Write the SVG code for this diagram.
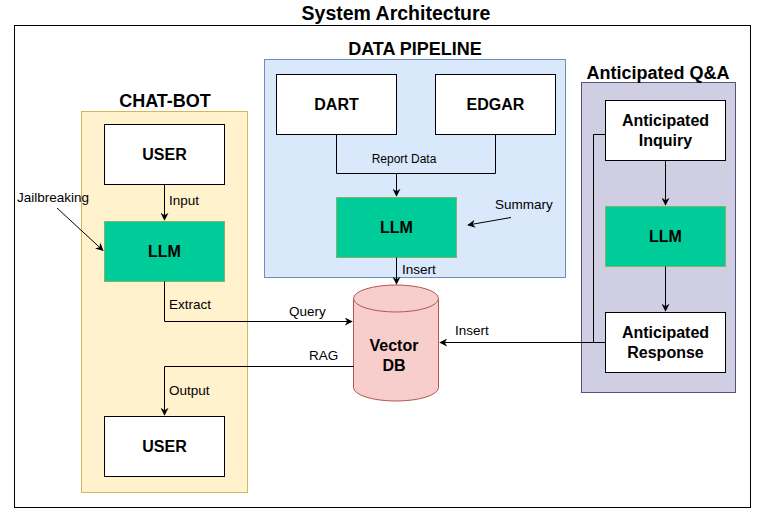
<svg xmlns="http://www.w3.org/2000/svg" width="770" height="530" viewBox="0 0 770 530">
<style>
.t{font-family:"Liberation Sans",Arial,sans-serif;fill:#000}
.title{font-size:19.5px;font-weight:bold}
.grp{font-size:18px;font-weight:bold}
.node{font-size:16px;font-weight:bold}
.lbl{font-size:13.5px}
.sm{font-size:12px}
.box{fill:#fff;stroke:#000;stroke-width:1}
.llm{fill:#00CC99;stroke:#82b366;stroke-width:1}
.edge{fill:none;stroke:#000;stroke-width:1}
</style>
<defs>
<marker id="arr" viewBox="0 0 10 10" refX="9" refY="5" markerWidth="8" markerHeight="8" markerUnits="userSpaceOnUse" orient="auto">
<path d="M0,0 L10,5 L0,10 L3,5 Z" fill="#000"/>
</marker>
</defs>
<rect width="770" height="530" fill="#fff"/>
<text class="t title" x="396" y="20" text-anchor="middle">System Architecture</text>
<rect x="14.5" y="25.5" width="736" height="482" fill="none" stroke="#000" stroke-width="1"/>

<g id="chatbot">
<rect x="81.5" y="111.5" width="166" height="381" fill="#fff2cc" stroke="#d6b656"/>
<text class="t grp" x="165" y="107" text-anchor="middle">CHAT-BOT</text>
</g>
<g id="pipeline">
<rect x="264.5" y="59.5" width="301" height="218" fill="#dae8fc" stroke="#6c8ebf"/>
<text class="t grp" x="415" y="55" text-anchor="middle">DATA PIPELINE</text>
</g>
<g id="qa">
<rect x="581.5" y="82.5" width="154" height="310" fill="#d0cee2" stroke="#56517e"/>
<text class="t grp" x="658" y="79" text-anchor="middle">Anticipated Q&amp;A</text>
</g>

<g id="user1"><rect class="box" x="104.5" y="124.5" width="120" height="60"/><text class="t node" x="164.5" y="160" text-anchor="middle">USER</text></g>
<g id="llm1"><rect class="llm" x="104.5" y="221.5" width="120" height="60"/><text class="t node" x="164.5" y="257" text-anchor="middle">LLM</text></g>
<g id="user2"><rect class="box" x="104.5" y="416.5" width="120" height="60"/><text class="t node" x="164.5" y="452" text-anchor="middle">USER</text></g>
<g id="dart"><rect class="box" x="276.5" y="74.5" width="120" height="60"/><text class="t node" x="336.5" y="110" text-anchor="middle">DART</text></g>
<g id="edgar"><rect class="box" x="435.5" y="74.5" width="120" height="60"/><text class="t node" x="495.5" y="110" text-anchor="middle">EDGAR</text></g>
<g id="llm2"><rect class="llm" x="336.5" y="197.5" width="120" height="60"/><text class="t node" x="396.5" y="233" text-anchor="middle">LLM</text></g>
<g id="inquiry"><rect class="box" x="605.5" y="100.5" width="120" height="60"/><text class="t node" x="665.5" y="126" text-anchor="middle">Anticipated</text><text class="t node" x="665.5" y="146" text-anchor="middle">Inquiry</text></g>
<g id="llm3"><rect class="llm" x="605.5" y="206.5" width="120" height="60"/><text class="t node" x="665.5" y="242" text-anchor="middle">LLM</text></g>
<g id="response"><rect class="box" x="605.5" y="312.5" width="120" height="60"/><text class="t node" x="665.5" y="338" text-anchor="middle">Anticipated</text><text class="t node" x="665.5" y="358" text-anchor="middle">Response</text></g>
<g id="vectordb">
<path d="M353.5,298.5 L353.5,387.5 A42.5,13.5 0 0 0 438.5,387.5 L438.5,298.5" fill="#f8cecc" stroke="#b85450"/>
<ellipse cx="396" cy="298.5" rx="42.5" ry="13.5" fill="#f8cecc" stroke="#b85450"/>
<text class="t node" x="394" y="351" text-anchor="middle">Vector</text>
<text class="t node" x="394" y="371" text-anchor="middle">DB</text>
</g>

<g id="connectors">
<path class="edge" d="M164.5,184.5 V220" marker-end="url(#arr)"/>
<text class="t lbl" x="169" y="205">Input</text>
<path class="edge" d="M57,208 L103,250.5" marker-end="url(#arr)"/>
<text class="t lbl" x="17" y="202">Jailbreaking</text>
<path class="edge" d="M164.5,281.5 V321.5 H352" marker-end="url(#arr)"/>
<text class="t lbl" x="169" y="309">Extract</text>
<text class="t lbl" x="289" y="316">Query</text>
<path class="edge" d="M353.5,366.5 H164.5 V415" marker-end="url(#arr)"/>
<text class="t lbl" x="309" y="360">RAG</text>
<text class="t lbl" x="169" y="395">Output</text>
<path class="edge" d="M336.5,134.5 V173.5 H495.5 V134.5"/>
<path class="edge" d="M396.5,173.5 V196" marker-end="url(#arr)"/>
<text class="t sm" x="404" y="163" text-anchor="middle">Report Data</text>
<path class="edge" d="M511,217.5 L468,225" marker-end="url(#arr)"/>
<text class="t lbl" x="495" y="209">Summary</text>
<path class="edge" d="M396.5,257.5 V284" marker-end="url(#arr)"/>
<text class="t lbl" x="402" y="274">Insert</text>
<path class="edge" d="M665.5,160.5 V205" marker-end="url(#arr)"/>
<path class="edge" d="M665.5,266.5 V311" marker-end="url(#arr)"/>
<path class="edge" d="M605.5,342.5 H440" marker-end="url(#arr)"/>
<path class="edge" d="M605.5,134.5 H593.5 V342.5"/>
<text class="t lbl" x="455" y="335">Insert</text>
</g>
</svg>
